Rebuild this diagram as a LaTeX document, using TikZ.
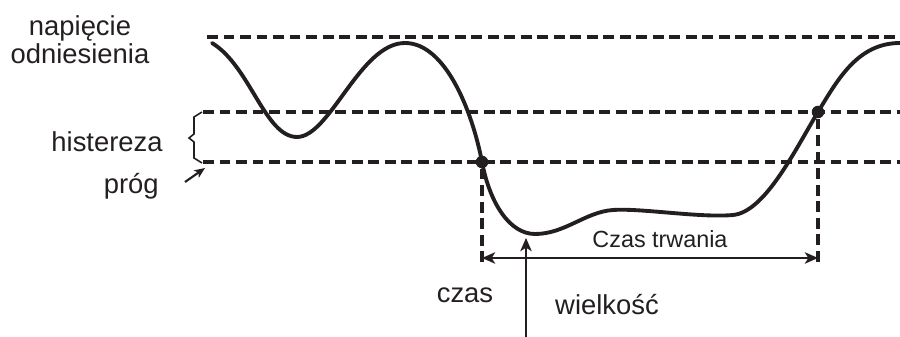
\documentclass[tikz,border=0pt]{standalone}
\usepackage{fontspec}
\setmainfont{Liberation Sans}
\usepackage{xcolor}
\usetikzlibrary{arrows.meta,positioning}
\definecolor{ink}{HTML}{231F20}

\begin{document}
\begin{tikzpicture}[
  x=0.02cm, y=-0.02cm, color=ink,
  lbl/.style={font=\fontsize{15.6}{16.5}\selectfont, inner sep=0pt, align=center},
  small/.style={font=\fontsize{13.3}{15}\selectfont, inner sep=0pt},
  lvl/.style={dash pattern=on 6.2pt off 3.2pt, line width=1.75pt},
  wave/.style={line width=2.2pt, line cap=round},
  arr/.style={-{Stealth[length=7.5pt, width=6.5pt, inset=2pt]}, line width=1.2pt},
  dot/.style={circle, fill, inner sep=0pt, minimum size=0.25cm}
]
\useasboundingbox (0,0) rectangle (900,337);

% levels
\coordinate (ref0) at (207,37);  \coordinate (ref1) at (900,37);
\coordinate (hys0) at (203,112); \coordinate (hys1) at (900,112);
\coordinate (thr0) at (203,162); \coordinate (thr1) at (900,162);
\draw[lvl] (ref0) -- (ref1);
\draw[lvl] (hys0) -- (hys1);
\draw[lvl] (thr0) -- (thr1);

% signal
\draw[wave] (212,43) .. controls (250,66) and (265,137) .. (297,137)
  .. controls (330,137) and (360,43) .. (405,43)
  .. controls (445,43) and (472,110) .. (482,162)
  .. controls (490,204) and (510,234) .. (535,234)
  .. controls (565,234) and (585,212) .. (613,210)
  .. controls (641,208) and (700,218) .. (733,215)
  .. controls (765,212) and (795,150) .. (818,112)
  .. controls (838,79) and (858,43) .. (900,43);

\node[dot] (down) at (482,162) {};
\node[dot] (up) at (818,112) {};
\coordinate (downEnd) at (482,263);
\coordinate (upEnd) at (818,263);
\draw[lvl] (down) -- (downEnd);
\draw[lvl] (up) -- (upEnd);

% duration
\coordinate (durL) at (482,258);
\coordinate (durR) at (818,258);
\draw[arr, {Stealth[length=7.5pt, width=6.5pt, inset=2pt]}-{Stealth[length=7.5pt, width=6.5pt, inset=2pt]}] (durL) -- (durR);
\node[small, anchor=base] (dur) at (660,248) {Czas trwania};

% magnitude
\coordinate (magFoot) at (526,337);
\coordinate (magTip) at (526,238);
\draw[arr] (magFoot) -- (magTip);

% hysteresis brace
\draw[line width=0.9pt] (202,112) -- (194,117) -- (194,134) -- (189,138)
  -- (194,142) -- (194,158) -- (202,163);

% labels
\node[lbl, anchor=base] (ref) at (80,64) {napięcie\\odniesienia};
\node[lbl, anchor=base east] (hys) at (163,152) {histereza};
\node[lbl, anchor=base east] (thr) at (159,194) {próg};
\coordinate (thrTip) at (205,168);
\draw[arr, -{Stealth[length=6pt, width=5pt, inset=1.5pt]}] (185,182) -- (thrTip);
\node[lbl, anchor=base] (time) at (465,303) {czas};
\node[lbl, anchor=base] (mag) at (607,315) {wielkość};
\end{tikzpicture}
\end{document}
